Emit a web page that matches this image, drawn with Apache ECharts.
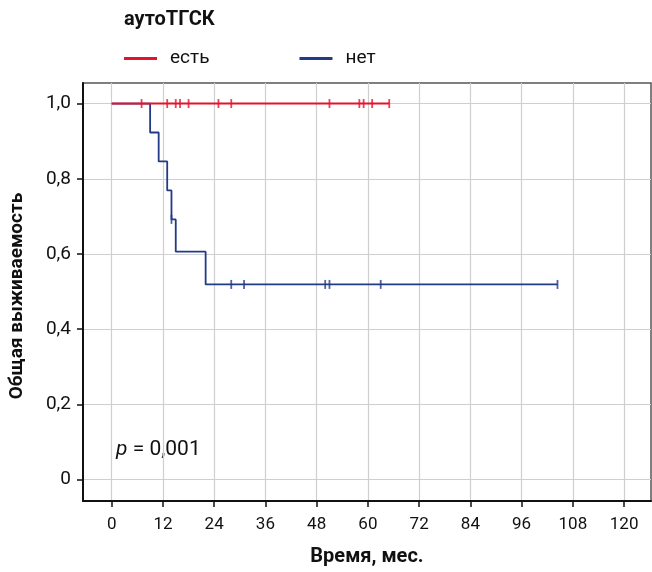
<!DOCTYPE html>
<html>
<head>
<meta charset="utf-8">
<script src="https://cdn.jsdelivr.net/npm/echarts@6/dist/echarts.min.js"></script>
<style>
  html, body { margin: 0; padding: 0; background: #fff; }
  #chart { width: 652px; height: 572px; }
</style>
</head>
<body>
<div id="chart"></div>
<script>
// Kaplan–Meier overall survival by autologous transplant (аутоТГСК)

// Group "есть": no events, survival stays at 1.0
const yesTimes    = [0, 65];
const yesSurv     = [1.0, 1.0];
const yesCensored = [7, 13, 15, 16, 18, 25, 28, 51, 58, 59, 61, 65];
const yesCensSurv = [1.0, 1.0, 1.0, 1.0, 1.0, 1.0, 1.0, 1.0, 1.0, 1.0, 1.0, 1.0];

// Group "нет": step curve (time in months, survival)
const noTimes    = [0, 9, 11, 13, 14, 15, 22, 104.4];
const noSurv     = [1.0, 0.923, 0.846, 0.769, 0.692, 0.606, 0.519, 0.519];
const noCensored = [14, 28, 31, 50, 51, 63, 104.4];
const noCensSurv = [0.692, 0.519, 0.519, 0.519, 0.519, 0.519, 0.519];

// Axis ticks
const xTicks = [0, 12, 24, 36, 48, 60, 72, 84, 96, 108, 120];
const yTicks = [0, 0.2, 0.4, 0.6, 0.8, 1.0];
const yTickLabels = ['0', '0,2', '0,4', '0,6', '0,8', '1,0'];

const seriesNames = ['есть', 'нет'];
const RED = '#e3122f';
const BLUE = '#233a86';
const FONT = 'Roboto';

const zip = (a, b) => a.map((v, i) => [v, b[i]]);

const chart = echarts.init(document.getElementById('chart'), null, { renderer: 'canvas' });

chart.setOption({
  animation: false,
  backgroundColor: '#ffffff',
  textStyle: { fontFamily: FONT },
  title: {
    text: 'аутоТГСК',
    left: 119,
    top: 5,
    padding: 5,
    textStyle: { fontFamily: FONT, fontSize: 20, fontWeight: 'bold', color: '#111' }
  },
  legend: {
    left: 119,
    top: 44,
    itemWidth: 33,
    itemHeight: 3,
    itemGap: 90,
    icon: 'rect',
    data: seriesNames,
    textStyle: { fontFamily: FONT, fontSize: 19, color: '#111', padding: [0, 0, 0, 8] }
  },
  grid: {
    left: 83, right: 1, top: 83, bottom: 70,
    show: true,
    borderColor: '#555',
    borderWidth: 1.5,
    containLabel: false
  },
  xAxis: {
    type: 'value',
    min: -6.72,
    max: 126.3,
    name: 'Время, мес.',
    nameLocation: 'middle',
    nameGap: 46,
    nameTextStyle: { fontFamily: FONT, fontSize: 20, fontWeight: 'bold', color: '#111' },
    axisLine: { show: true, onZero: false, lineStyle: { color: '#111', width: 2 } },
    axisTick: { show: true, length: 6, customValues: xTicks, lineStyle: { color: '#111', width: 1.5 } },
    axisLabel: { customValues: xTicks, margin: 15, fontFamily: FONT, fontSize: 17, color: '#111' },
    splitLine: { show: true, lineStyle: { color: '#cfcfcf', width: 1.2 } }
  },
  yAxis: {
    type: 'value',
    min: -0.057,
    max: 1.0547,
    axisLine: { show: true, onZero: false, lineStyle: { color: '#111', width: 2 } },
    axisTick: { show: true, length: 6, customValues: yTicks, lineStyle: { color: '#111', width: 1.5 } },
    axisLabel: {
      customValues: yTicks,
      margin: 12,
      fontFamily: FONT,
      fontSize: 19,
      color: '#111',
      formatter: (v) => {
        const i = yTicks.findIndex(t => Math.abs(t - v) < 1e-6);
        return i >= 0 ? yTickLabels[i] : '';
      }
    },
    splitLine: { show: true, lineStyle: { color: '#cfcfcf', width: 1.2 } }
  },
  series: [
    {
      name: seriesNames[1],
      type: 'line',
      step: 'end',
      data: zip(noTimes, noSurv),
      showSymbol: false,
      color: BLUE,
      lineStyle: { color: BLUE, width: 1.8 },
      z: 2
    },
    {
      name: seriesNames[1],
      type: 'scatter',
      data: zip(noCensored, noCensSurv),
      symbol: 'rect',
      symbolSize: [1.8, 9],
      itemStyle: { color: BLUE },
      z: 2
    },
    {
      name: seriesNames[0],
      type: 'line',
      step: 'end',
      data: zip(yesTimes, yesSurv),
      showSymbol: false,
      color: RED,
      lineStyle: { color: RED, width: 2 },
      z: 3
    },
    {
      name: seriesNames[0],
      type: 'scatter',
      data: zip(yesCensored, yesCensSurv),
      symbol: 'rect',
      symbolSize: [1.8, 9],
      itemStyle: { color: RED },
      z: 3
    }
  ],
  graphic: [
    {
      type: 'text',
      x: 17,
      y: 296,
      rotation: Math.PI / 2,
      style: {
        text: 'Общая выживаемость',
        fontFamily: FONT,
        fontSize: 19,
        fontWeight: 'bold',
        fill: '#111',
        align: 'center',
        verticalAlign: 'middle'
      }
    },
    {
      type: 'text',
      x: 116,
      y: 450,
      style: {
        text: '{i|p} = 0,001',
        rich: {
          i: { fontStyle: 'italic', fontFamily: FONT, fontSize: 21, fill: '#111' }
        },
        fontFamily: FONT,
        fontSize: 21,
        fill: '#111',
        verticalAlign: 'middle'
      }
    }
  ]
});
</script>
</body>
</html>
